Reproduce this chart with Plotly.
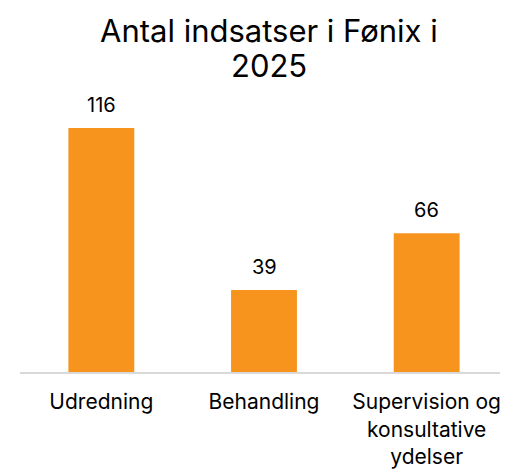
import plotly.graph_objects as go

categories = ["Udredning", "Behandling", "Supervision og<br>konsultative<br>ydelser"]
values = [116, 39, 66]
title_lines = ["Antal indsatser i Fønix i", "2025"]

FONT = "Inter"
xs = list(range(len(categories)))
fig = go.Figure(go.Bar(
    x=xs,
    y=values,
    marker=dict(color="#F7941D", line=dict(width=0)),
    width=0.405,
    hoverinfo="skip",
))

annotations = [
    dict(x=x, y=v, xref="x", yref="y", text=str(v), showarrow=False,
         yanchor="bottom", yshift=9, font=dict(size=20, family=FONT, color="#000000"))
    for x, v in zip(xs, values)
]
# title lines (page y centers ~30 and ~66; plot top at page y 77)
for line, shift in zip(title_lines, [47, 12]):
    annotations.append(dict(
        x=0.51, y=1.0, xref="paper", yref="paper", xanchor="center", yanchor="middle",
        yshift=shift, text=line, showarrow=False,
        font=dict(size=31, family=FONT, color="#000000"),
    ))

fig.update_layout(
    width=500, height=463,
    margin=dict(l=12, r=0, t=69, b=99, autoexpand=False),
    paper_bgcolor="white", plot_bgcolor="white",
    showlegend=False,
    font=dict(family=FONT, color="#000000"),
    annotations=annotations,
)
fig.update_xaxes(
    tickmode="array", tickvals=xs, ticktext=categories,
    range=[-0.5, 2.5], showgrid=False, zeroline=False, automargin=False,
    showline=True, linecolor="#D9D9D9", linewidth=2,
    ticks="", ticklabelstandoff=10,
    tickfont=dict(size=21, family=FONT, color="#000000"),
)
fig.update_yaxes(range=[0, 140.25], visible=False, showgrid=False, zeroline=False, automargin=False)

fig.write_html("out.html")
